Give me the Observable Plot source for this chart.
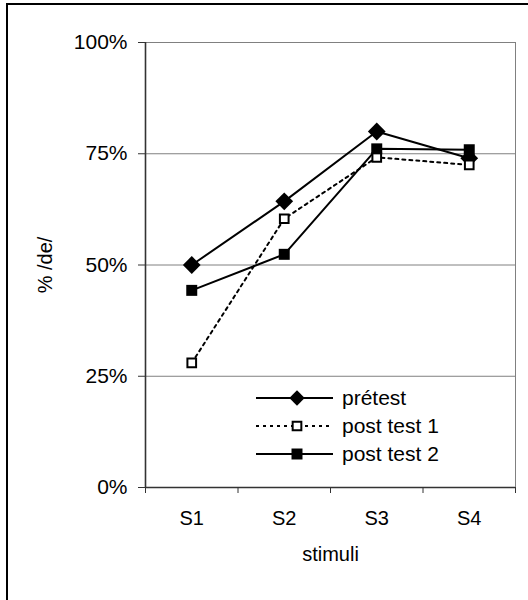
<!DOCTYPE html>
<html><head><meta charset="utf-8">
<script src="https://cdn.jsdelivr.net/npm/d3@7"></script>
<script src="https://cdn.jsdelivr.net/npm/@observablehq/plot@0.6"></script>
<style>
html,body{margin:0;padding:0;overflow:hidden;background:#fff;font-family:"Liberation Sans",Arial,sans-serif}
#wrap{position:relative;width:528px;height:600px;overflow:hidden}
#wrap svg.plot{position:absolute;left:0;top:0}
#border{position:absolute;left:6px;top:3px;width:700px;height:800px;border-left:2px solid #000;border-top:2px solid #000}
#legend{position:absolute;left:254px;top:384px;font-size:21px;color:#000}
.lrow{display:flex;align-items:center;height:28px}
.lrow span{margin-left:8px;line-height:28px}
</style></head><body><div id="wrap"></div>
<script>
const stimuli = ["S1", "S2", "S3", "S4"];
const seriesNames = ["prétest", "post test 1", "post test 2"];
const pretest = [0.50, 0.643, 0.80, 0.74];
const postTest1 = [0.28, 0.604, 0.742, 0.725];
const postTest2 = [0.443, 0.524, 0.761, 0.759];
const yTicks = [0, 0.25, 0.5, 0.75, 1];
const xLabel = "stimuli";
const yLabel = "% /de/";

const styles = [
  {dash: null, symbol: "diamond2", r: 8, fill: "#000", stroke: "none"},
  {dash: "3,4", symbol: "square", r: 4.9, fill: "#fff", stroke: "#000"},
  {dash: null, symbol: "square", r: 6.2, fill: "#000", stroke: "none"}
];
const valueSets = [pretest, postTest1, postTest2];
const rows = valueSets.map((vals, k) => vals.map((v, i) => ({s: i + 0.5, v, series: seriesNames[k]})));
const bounds = d3.range(stimuli.length + 1);

const marks = [
  Plot.ruleY(yTicks.filter(d => d > 0), {stroke: "#808080", strokeWidth: 1}),
  Plot.ruleX([stimuli.length], {y1: 0, y2: 1, stroke: "#808080", strokeWidth: 1}),
  Plot.ruleX([0], {y1: 0, y2: 1, stroke: "#333", strokeWidth: 1.6}),
  Plot.ruleY([0], {stroke: "#333", strokeWidth: 1.6}),
  Plot.axisY({ticks: yTicks, tickFormat: d3.format(".0%"), tickSize: 7, tickPadding: 11, fontSize: 21, label: null, stroke: "#333"}),
  Plot.axisX({ticks: bounds, tickFormat: () => "", tickSize: 6, label: null, stroke: "#333"}),
  Plot.axisX({ticks: stimuli.map((d, i) => i + 0.5), tickFormat: d => stimuli[Math.floor(d)], tickSize: 0, tickPadding: 23, fontSize: 20, label: null}),
  Plot.text([xLabel], {frameAnchor: "bottom", dy: 73, fontSize: 20, fill: "#000"}),
  Plot.text([yLabel], {frameAnchor: "left", dx: -100, rotate: -90, textAnchor: "middle", fontSize: 20, fill: "#000"})
];
rows.forEach((r, k) => {
  const st = styles[k];
  marks.push(Plot.line(r, {x: "s", y: "v", stroke: "#000", strokeWidth: 2, strokeDasharray: st.dash}));
});
rows.forEach((r, k) => {
  const st = styles[k];
  marks.push(Plot.dot(r, {x: "s", y: "v", symbol: st.symbol, r: st.r, fill: st.fill, stroke: st.stroke, strokeWidth: 2}));
});

const chart = Plot.plot({
  width: 528, height: 600,
  marginLeft: 145, marginRight: 13, marginTop: 42, marginBottom: 113,
  x: {domain: [0, stimuli.length]},
  y: {domain: [0, 1]},
  style: {fontFamily: '"Liberation Sans", Arial, sans-serif', fontSize: "20px", color: "#000", background: "transparent", overflow: "visible"},
  marks
});
chart.classList.add("plot");
const wrap = document.getElementById("wrap");
wrap.appendChild(chart);
const border = document.createElement("div");
border.id = "border";
wrap.appendChild(border);

const legend = d3.select(wrap).append("div").attr("id", "legend");
seriesNames.forEach((name, k) => {
  const st = styles[k];
  const row = legend.append("div").attr("class", "lrow");
  const svg = row.append("svg").attr("width", 80).attr("height", 28);
  svg.append("line").attr("x1", 2).attr("x2", 79).attr("y1", 14).attr("y2", 14)
    .attr("stroke", "#000").attr("stroke-width", 2).attr("stroke-dasharray", st.dash);
  const size = Math.PI * st.r * st.r * (k === 0 ? 0.75 : 1);
  const sym = k === 0 ? d3.symbolDiamond2 : d3.symbolSquare;
  svg.append("path").attr("transform", "translate(43,14)").attr("d", d3.symbol(sym, size)())
    .attr("fill", st.fill).attr("stroke", st.stroke).attr("stroke-width", 2);
  row.append("span").text(name);
});
</script></body></html>
